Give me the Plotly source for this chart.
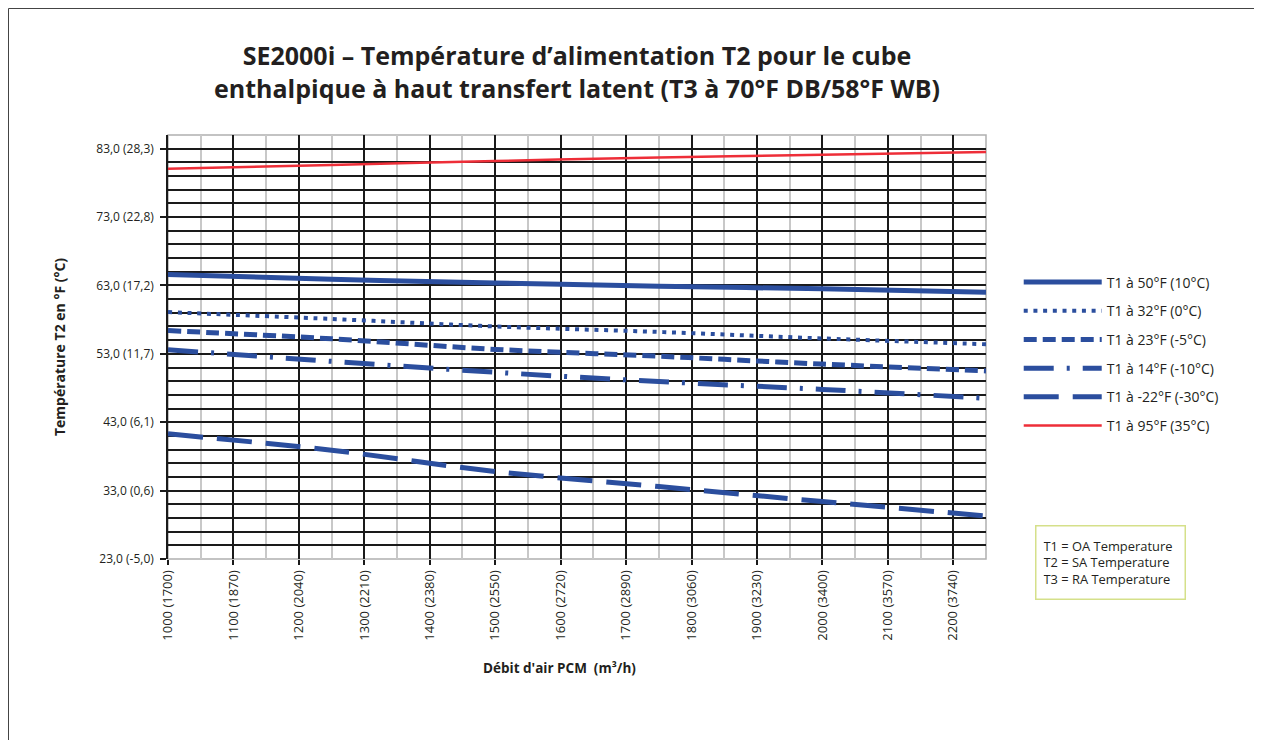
import plotly.graph_objects as go

# ---- data ----
cfm = [1000, 1250, 1500, 1750, 2000, 2250]
t1_50F = [64.6, 63.9, 63.35, 62.9, 62.5, 62.0]
t1_32F = [59.1, 58.1, 57.0, 56.2, 55.25, 54.4]
t1_23F = [56.4, 55.2, 53.65, 52.65, 51.5, 50.5]
t1_14F = [53.6, 51.9, 50.3, 48.95, 47.8, 46.5]
t1_m22F = [41.3, 38.9, 35.8, 33.6, 31.4, 29.3]
t1_95F = [80.05, 80.6, 81.2, 81.7, 82.1, 82.5]

series_names = ["T1 à 50°F (10°C)", "T1 à 32°F (0°C)", "T1 à 23°F (-5°C)",
                "T1 à 14°F (-10°C)", "T1 à -22°F (-30°C)", "T1 à 95°F (35°C)"]

x_tickvals = [1000, 1100, 1200, 1300, 1400, 1500, 1600, 1700, 1800, 1900, 2000, 2100, 2200]
x_ticktext = ["1000 (1700)", "1100 (1870)", "1200 (2040)", "1300 (2210)", "1400 (2380)",
              "1500 (2550)", "1600 (2720)", "1700 (2890)", "1800 (3060)", "1900 (3230)",
              "2000 (3400)", "2100 (3570)", "2200 (3740)"]
y_tickvals = [23, 33, 43, 53, 63, 73, 83]
y_ticktext = ["23,0 (-5,0)", "33,0 (0,6)", "43,0 (6,1)", "53,0 (11,7)",
              "63,0 (17,2)", "73,0 (22,8)", "83,0 (28,3)"]

BLUE = "#2b4e9e"
RED = "#ee2e38"
FONT = "Open Sans"
TXT = "#231f20"

styles = [
    dict(color=BLUE, width=5, dash="solid"),
    dict(color=BLUE, width=4, dash="4px,5.7px"),
    dict(color=BLUE, width=5, dash="13px,6px"),
    dict(color=BLUE, width=5, dash="30px,13px,3px,13px"),
    dict(color=BLUE, width=5, dash="35px,14px"),
    dict(color=RED, width=2.5, dash="solid"),
]
data = [t1_50F, t1_32F, t1_23F, t1_14F, t1_m22F, t1_95F]

W, H = 1254, 732
L, T, PW, PH = 160, 127, 818, 424

fig = go.Figure()
for i, (name, ys, st) in enumerate(zip(series_names, data, styles)):
    fig.add_trace(go.Scatter(x=cfm, y=ys, name=name, mode="lines",
                             line=dict(shape="spline", **st),
                             legendgroup=f"g{i}"))

fig.update_layout(
    width=W, height=H,
    margin=dict(l=L, r=W - L - PW, t=T, b=H - T - PH),
    paper_bgcolor="white", plot_bgcolor="white",
    font=dict(family=FONT, size=12, color=TXT),
    title=dict(text="<b>SE2000i – Température d’alimentation T2 pour le cube<br>enthalpique à haut transfert latent (T3 à 70°F DB/58°F WB)</b>",
               x=(577 - 8) / W, xanchor="center", y=1 - 57 / H, yanchor="middle",
               font=dict(family=FONT, size=25, color=TXT)),
    legend=dict(x=1.04, y=0.69, xanchor="left", yanchor="top",
                font=dict(family=FONT, size=14, color=TXT),
                itemwidth=78, tracegroupgap=7.5, bgcolor="rgba(0,0,0,0)"),
    showlegend=True,
)

fig.update_xaxes(
    range=[1000, 2250], tickvals=x_tickvals, ticktext=x_ticktext, tickangle=-90,
    showgrid=True, gridcolor="#1a1a1a", gridwidth=1.5,
    minor=dict(dtick=50, tick0=1000, showgrid=True, gridcolor="#c8c8c8", gridwidth=1.5),
    ticks="outside", ticklen=5, tickcolor="#1a1a1a", tickwidth=1.5,
    tickfont=dict(size=13, color=TXT),
    zeroline=False, showline=False,
)
fig.update_yaxes(
    range=[23, 85], tickvals=y_tickvals, ticktext=y_ticktext,
    showgrid=True, gridcolor="#1a1a1a", gridwidth=1.5,
    minor=dict(dtick=2, tick0=23, showgrid=True, gridcolor="#1a1a1a", gridwidth=1.5),
    ticks="outside", ticklen=6, tickcolor="#1a1a1a", tickwidth=1.5,
    tickfont=dict(size=12, color=TXT), ticklabelstandoff=4,
    zeroline=False, showline=True, linecolor="#1a1a1a", linewidth=1.5,
    title=dict(text="<b>Température T2 en °F (°C)</b>", font=dict(size=14, color=TXT), standoff=27),
)

# x-axis title (slightly left of centre, as in the original)
fig.add_annotation(
    xref="paper", yref="paper", x=(559 - 8 - L) / PW, y=(559 - 668) / PH,
    xanchor="center", yanchor="middle", showarrow=False,
    text="<b>Débit d'air PCM  (m³/h)</b>", font=dict(family=FONT, size=13.5, color=TXT),
)

# plot frame (top/right light gray)
fig.add_shape(type="rect", xref="paper", yref="paper", x0=0, x1=1, y0=0, y1=1,
              line=dict(color="#b0b0b0", width=1.5), layer="below")
# outer page border
fig.add_shape(type="rect", xref="paper", yref="paper",
              x0=(0.5 - L) / PW, x1=1.5, y0=-0.6, y1=(T + PH - 0.5) / PH,
              line=dict(color="#444", width=1))

fig.add_annotation(
    xref="paper", yref="paper", x=(1110 - 8 - L) / PW, y=(559 - 562) / PH,
    xanchor="center", yanchor="middle", showarrow=False, align="left",
    text="T1 = OA Temperature<br>T2 = SA Temperature<br>T3 = RA Temperature",
    font=dict(family=FONT, size=12.9, color=TXT),
    width=134, height=58, borderpad=7, bordercolor="#d5e08a", borderwidth=1.5,
    bgcolor="white",
)

fig.write_html("out.html")
